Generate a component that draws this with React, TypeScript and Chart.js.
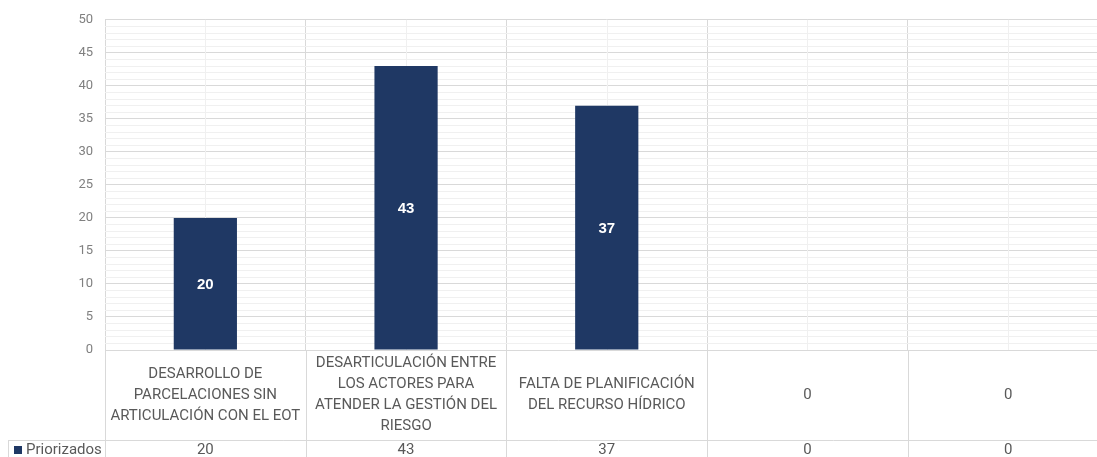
import React, { useEffect, useRef } from "react";
import { Chart, registerables } from "chart.js";

Chart.register(...registerables);

const categories: string[][] = [
  ["DESARROLLO DE", "PARCELACIONES SIN", "ARTICULACIÓN CON EL EOT"],
  ["DESARTICULACIÓN ENTRE", "LOS ACTORES PARA", "ATENDER LA GESTIÓN DEL", "RIESGO"],
  ["FALTA DE PLANIFICACIÓN", "DEL RECURSO HÍDRICO"],
  ["0"],
  ["0"],
];
const seriesName = "Priorizados";
const priorizados = [20, 43, 37, 0, 0];
const yMin = 0;
const yMax = 50;
const yMajorStep = 5;

const BAR_COLOR = "#1f3864";
const GRID_MAJOR = "#d9d9d9";
const GRID_MINOR = "#f0f0f0";
const TEXT_COLOR = "#595959";
const FONT = "Roboto, 'Open Sans', sans-serif";

const tablePlugin = {
  id: "dataTable",
  beforeDatasetsDraw(chart: any) {
    const ctx = chart.ctx;
    const x = chart.scales.x;
    const area = chart.chartArea;
    ctx.save();
    ctx.strokeStyle = GRID_MINOR;
    ctx.lineWidth = 1;
    for (let i = 0; i < categories.length; i++) {
      const px = Math.round(x.getPixelForValue(i)) + 0.5;
      ctx.beginPath();
      ctx.moveTo(px, area.top);
      ctx.lineTo(px, area.bottom);
      ctx.stroke();
    }
    ctx.restore();
  },
  afterDraw(chart: any) {
    const ctx = chart.ctx;
    const x = chart.scales.x;
    const area = chart.chartArea;
    const n = categories.length;
    const w = (area.right - area.left) / n;
    const H = chart.height;
    const rowTop = 440;
    ctx.save();
    ctx.strokeStyle = GRID_MAJOR;
    ctx.lineWidth = 1;
    for (let i = 0; i <= n; i++) {
      const px = Math.round(area.left + i * w) + 0.5;
      ctx.beginPath();
      ctx.moveTo(px, area.bottom);
      ctx.lineTo(px, H);
      ctx.stroke();
    }
    ctx.beginPath();
    ctx.moveTo(area.left, Math.round(area.bottom) + 0.5);
    ctx.lineTo(area.right, Math.round(area.bottom) + 0.5);
    ctx.stroke();
    ctx.beginPath();
    ctx.moveTo(8, rowTop + 0.5);
    ctx.lineTo(area.right, rowTop + 0.5);
    ctx.stroke();
    ctx.beginPath();
    ctx.moveTo(8.5, rowTop);
    ctx.lineTo(8.5, H);
    ctx.stroke();

    ctx.fillStyle = TEXT_COLOR;
    ctx.font = `15px ${FONT}`;
    ctx.textAlign = "center";
    ctx.textBaseline = "middle";
    const lh = 21;
    const cy = (area.bottom + rowTop) / 2;
    categories.forEach((lines, i) => {
      const cx = x.getPixelForValue(i);
      const start = cy - ((lines.length - 1) * lh) / 2;
      lines.forEach((t, j) => ctx.fillText(t, cx, start + j * lh));
    });
    const ry = 450;
    priorizados.forEach((v, i) => {
      ctx.fillText(String(v), x.getPixelForValue(i), ry);
    });
    ctx.fillStyle = BAR_COLOR;
    ctx.fillRect(14, 446, 8, 8);
    ctx.fillStyle = TEXT_COLOR;
    ctx.textAlign = "left";
    ctx.fillText(seriesName, 26, ry);

    const meta = chart.getDatasetMeta(0);
    ctx.fillStyle = "#ffffff";
    ctx.font = `bold 15px Arial, 'Liberation Sans', sans-serif`;
    ctx.textAlign = "center";
    meta.data.forEach((el: any, i: number) => {
      if (!priorizados[i]) return;
      ctx.fillText(String(priorizados[i]), el.x, (el.y + el.base) / 2 + 1);
    });
    ctx.restore();
  },
};

export default function App() {
  const ref = useRef<HTMLCanvasElement | null>(null);
  useEffect(() => {
    if (!ref.current) return;
    const chart = new Chart(ref.current, {
      type: "bar",
      data: {
        labels: categories.map((c) => c.join(" ")),
        datasets: [
          {
            label: seriesName,
            data: priorizados,
            backgroundColor: BAR_COLOR,
            categoryPercentage: 1,
            barPercentage: 0.315,
          },
        ],
      },
      options: {
        responsive: false,
        animation: false,
        layout: { padding: { left: 0, right: 11.5, top: 19, bottom: 107 } },
        plugins: { legend: { display: false }, tooltip: { enabled: false } },
        scales: {
          x: {
            ticks: { display: false },
            grid: { color: GRID_MAJOR, drawTicks: false, offset: true },
            border: { display: false },
            afterFit: (s: any) => {
              s.height = 0;
            },
          },
          y: {
            min: yMin,
            max: yMax,
            ticks: {
              stepSize: 1,
              autoSkip: false,
              padding: 12,
              color: "#808080",
              font: { size: 13, family: FONT },
              callback: (v: any) => (Number(v) % yMajorStep === 0 ? String(v) : ""),
            },
            grid: {
              drawTicks: false,
              color: (c: any) =>
                c.tick && Number(c.tick.value) % yMajorStep === 0 ? GRID_MAJOR : GRID_MINOR,
            },
            border: { display: false },
            afterFit: (s: any) => {
              s.width = 105;
            },
          },
        },
      },
      plugins: [tablePlugin],
    });
    return () => chart.destroy();
  }, []);
  return (
    <div
      style={{
        position: "fixed",
        left: 0,
        top: 0,
        width: 1097,
        height: 457,
        overflow: "hidden",
        background: "#fff",
      }}
    >
      <canvas ref={ref} width={1120} height={457} style={{ display: "block", width: 1120, height: 457 }} />
    </div>
  );
}
